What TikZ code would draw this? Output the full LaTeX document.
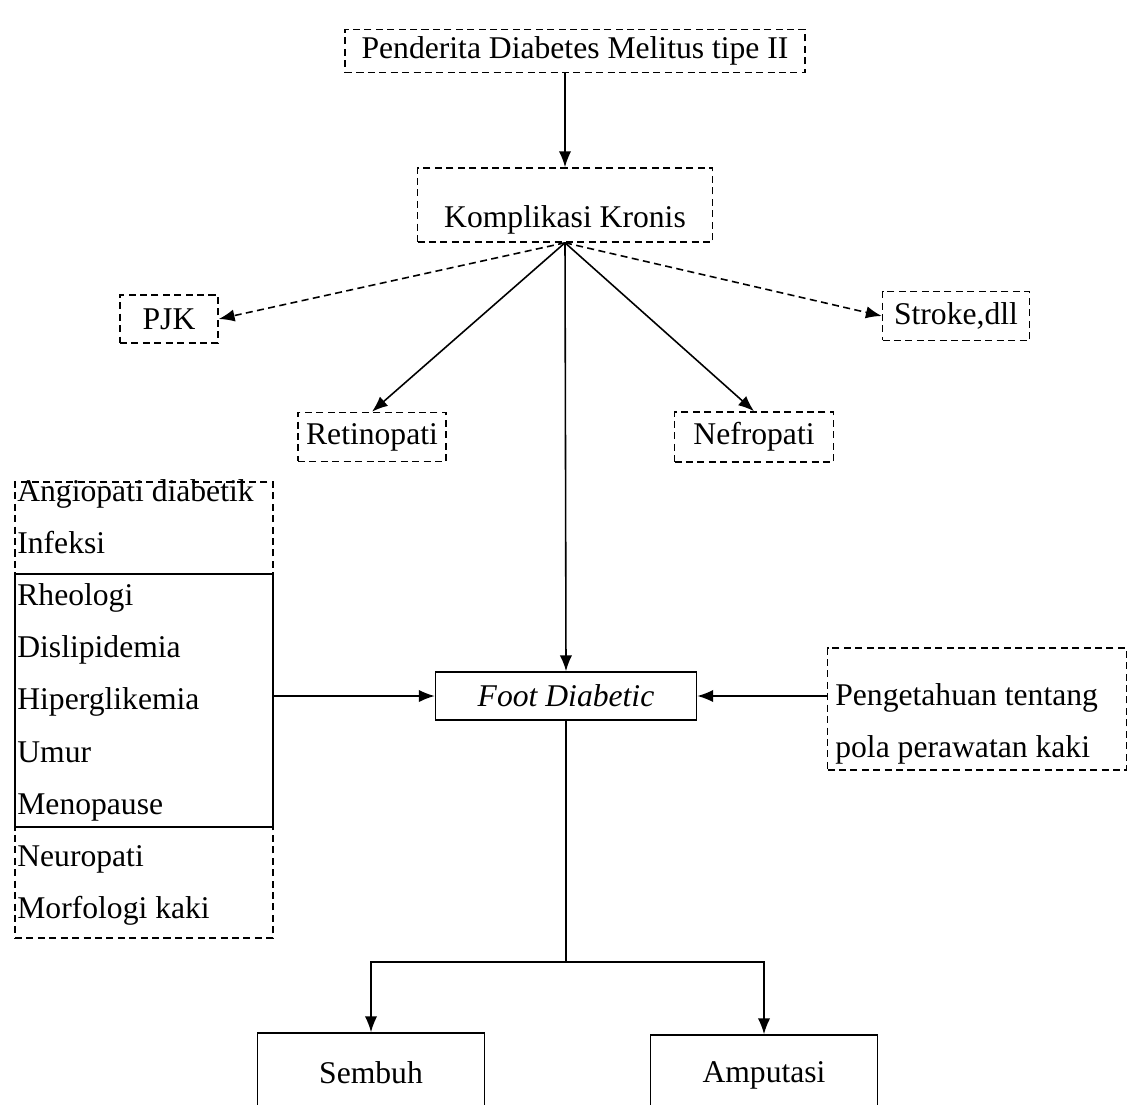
\documentclass[tikz,border=0pt]{standalone}
\usepackage{fontspec}
\setmainfont{Liberation Serif}
\usetikzlibrary{arrows.meta}
\begin{document}
\begin{tikzpicture}[x=0.02cm,y=-0.02cm,
  font=\fontsize{18}{22}\selectfont,
  every node/.style={inner sep=0pt},
  dbox/.style={draw,line width=0.9pt,dash pattern=on 4pt off 2.5pt},
  sbox/.style={draw,line width=0.9pt},
  garis/.style={line width=0.9pt},
  panah/.style={-{Latex[length=9pt,width=7pt]},line width=0.9pt},
  panahputus/.style={panah,dash pattern=on 4pt off 2.5pt}]
\clip (0,0) rectangle (1131,1104);

% bagian atas
\node[dbox,minimum width=9.2cm,minimum height=0.86cm] (penderita) at (575,51) {Penderita Diabetes Melitus tipe II};
\node[dbox,minimum width=5.9cm,minimum height=1.48cm,text height=0.9cm,text depth=0pt] (komplikasi) at (565,205) {Komplikasi Kronis};
\node[dbox,minimum width=1.96cm,minimum height=0.96cm] (pjk) at (169,319) {PJK};
\node[dbox,minimum width=2.94cm,minimum height=0.98cm] (stroke) at (956,316) {Stroke,dll};
\node[dbox,minimum width=2.96cm,minimum height=0.98cm] (retinopati) at (372,437) {Retinopati};
\node[dbox,minimum width=3.18cm,minimum height=1cm] (nefropati) at (754,437) {Nefropati};

% faktor risiko
\node[dbox,minimum width=5.16cm,minimum height=9.12cm] (faktor) at (144,710) {};
\node[sbox,minimum width=5.16cm,minimum height=5.06cm] (faktordalam) at (144,700.5) {};
\foreach \teks [count=\i from 0] in {Angiopati diabetik,Infeksi,Rheologi,Dislipidemia,Hiperglikemia,Umur,Menopause,Neuropati,Morfologi kaki}
  \node[anchor=base west] (f\i) at (17,{501+52.2*\i}) {\teks};

\node[sbox,minimum width=5.22cm,minimum height=0.96cm] (foot) at (566,696) {\itshape Foot Diabetic};
\node[dbox,minimum width=5.98cm,minimum height=2.44cm] (pengetahuan) at (977,709) {};
\node[anchor=west,align=left,font=\fontsize{18}{30}\selectfont] (pengetahuanteks) at (835,724) {Pengetahuan tentang\\pola perawatan kaki};

% hasil
\node[sbox,minimum width=4.54cm,minimum height=1.6cm] (sembuh) at (371,1073) {Sembuh};
\node[sbox,minimum width=4.54cm,minimum height=1.6cm] (amputasi) at (764,1075) {Amputasi};

% panah
\draw[panah] (penderita.south -| komplikasi.north) -- (komplikasi.north);
\draw[panahputus] (komplikasi.south) -- (pjk.east);
\draw[panahputus] (komplikasi.south) -- (stroke.west);
\draw[panah] (komplikasi.south) -- (retinopati.north);
\draw[panah] (komplikasi.south) -- (nefropati.north);
\draw[panah] (komplikasi.south) -- (foot.north);
\draw[panah] (faktor.east |- foot.west) -- (foot.west);
\draw[panah] (pengetahuan.west |- foot.east) -- (foot.east);
\coordinate (cabang) at (foot.south |- 0,962);
\draw[garis] (foot.south) -- (cabang);
\draw[panah] (cabang) -| (sembuh.north);
\draw[panah] (cabang) -| (amputasi.north);
\end{tikzpicture}
\end{document}
